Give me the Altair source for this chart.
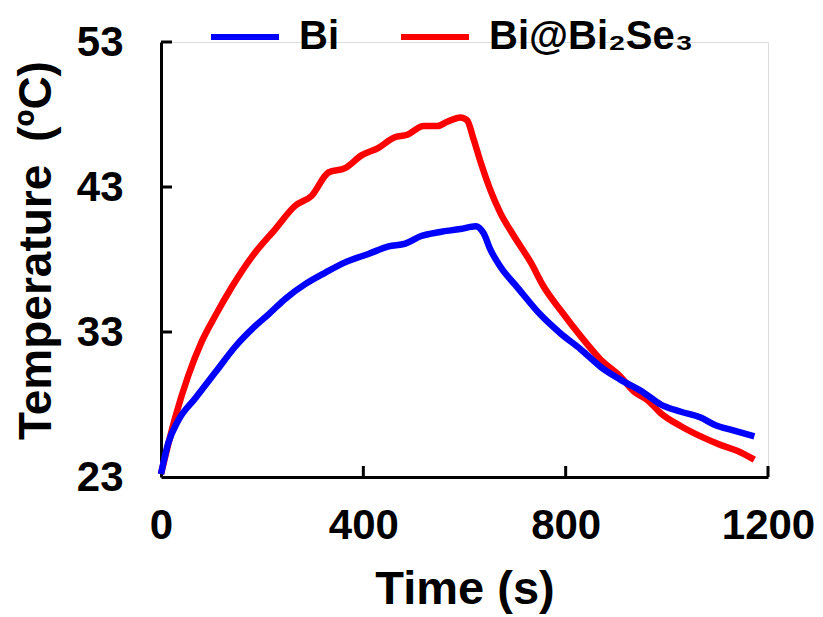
import altair as alt
import pandas as pd

# Bi@Bi2Se3 (red) heating/cooling curve
red_time = [0, 28, 54, 80, 107, 140, 180, 226, 265, 298, 331, 364, 397, 430, 460, 487,
            519, 546, 566, 592, 605, 618, 632, 651, 671, 698, 731, 757, 790, 830, 869,
            909, 935, 962, 988, 1028, 1067, 1107, 1140, 1173]
red_temp = [23.2, 27.1, 30.0, 32.3, 34.1, 36.1, 38.2, 40.1, 41.7, 42.4, 44.0, 44.3, 45.2,
            45.7, 46.4, 46.6, 47.2, 47.2, 47.5, 47.8, 47.6, 46.3, 44.7, 42.8, 41.2, 39.6,
            37.8, 36.1, 34.5, 32.7, 31.1, 29.9, 28.9, 28.3, 27.4, 26.5, 25.8, 25.2, 24.8, 24.2]

# Bi (blue) heating/cooling curve
blue_time = [0, 14, 34, 67, 107, 147, 186, 212, 246, 285, 325, 364, 411, 450, 483, 513,
             552, 592, 622, 638, 651, 671, 704, 750, 790, 830, 869, 909, 955, 988, 1028,
             1067, 1094, 1133, 1173]
blue_temp = [23.2, 25.3, 26.9, 28.4, 30.2, 32.0, 33.4, 34.2, 35.3, 36.3, 37.1, 37.8, 38.4,
             38.9, 39.1, 39.6, 39.9, 40.1, 40.3, 39.8, 38.7, 37.5, 36.1, 34.2, 32.9, 31.8,
             30.6, 29.7, 28.8, 28.0, 27.5, 27.1, 26.6, 26.2, 25.8]

series_names = ["Bi", "Bi@Bi\u2082Se\u2083"]
series_colors = ["#0000FF", "#FF0000"]

x_ticks = [0, 400, 800, 1200]
y_ticks = [23, 33, 43, 53]

df = pd.concat([
    pd.DataFrame({"time": red_time, "temp": red_temp, "sample": series_names[1], "ord": range(len(red_time))}),
    pd.DataFrame({"time": blue_time, "temp": blue_temp, "sample": series_names[0], "ord": range(len(blue_time))}),
], ignore_index=True)

FONT = "Liberation Sans"
W, H = 607, 435

xscale = alt.Scale(domain=[0, 1200], nice=False, zero=False)
yscale = alt.Scale(domain=[23, 53], nice=False, zero=False)

lines = alt.Chart(df).mark_line(strokeWidth=6.5, interpolate="monotone").encode(
    x=alt.X("time:Q", scale=xscale, axis=alt.Axis(
        values=x_ticks, format="d", title="Time (s)", grid=False, ticks=False, tickSize=0,
        labelFlush=False, labelOverlap=False,
        domainColor="black", domainWidth=3, labelFont=FONT, labelFontSize=42,
        labelFontWeight="bold", labelColor="black", labelPadding=28,
        titleFont=FONT, titleFontSize=47, titleFontWeight="bold", titleColor="black",
        titleBaseline="alphabetic", titleX=W / 2, titleY=126)),
    y=alt.Y("temp:Q", scale=yscale, axis=alt.Axis(
        values=y_ticks, format="d", title="Temperature\u2002(\u00baC)", grid=False, ticks=False,
        tickSize=0, labelFlush=False, labelOverlap=False,
        domainColor="black", domainWidth=3, labelFont=FONT, labelFontSize=42,
        labelFontWeight="bold", labelColor="black", labelPadding=38,
        titleFont=FONT, titleFontSize=46, titleFontWeight="bold", titleColor="black",
        titleBaseline="alphabetic", titleAngle=270, titleX=-111, titleY=208)),
    color=alt.Color("sample:N", scale=alt.Scale(domain=series_names, range=series_colors),
                    legend=alt.Legend(orient="none", legendX=47, legendY=-42,
                                      direction="horizontal", title=None,
                                      symbolType="stroke", symbolSize=4624,
                                      symbolStrokeWidth=6, labelFont=FONT,
                                      labelFontSize=40, labelFontWeight="bold",
                                      labelColor="black", labelOffset=17,
                                      labelBaseline="middle",
                                      columnPadding=50, labelLimit=500)),
    order=alt.Order("ord:Q"),
)

xt = alt.Chart(pd.DataFrame({"t": x_ticks[1:]})).mark_rule(color="black", strokeWidth=3).encode(
    x=alt.X("t:Q", scale=xscale), y=alt.value(H), y2=alt.value(H - 11))
yt = alt.Chart(pd.DataFrame({"v": y_ticks[1:]})).mark_rule(color="black", strokeWidth=3).encode(
    y=alt.Y("v:Q", scale=yscale), x=alt.value(0), x2=alt.value(11))

chart = alt.layer(lines, xt, yt).properties(
    width=W, height=H,
    autosize=alt.AutoSizeParams(type="none"),
    padding={"left": 161, "top": 42, "right": 55, "bottom": 140},
).configure_view(stroke=None).configure(background="white")

chart.save("out.html", embed_options={"renderer": "svg", "actions": False})
